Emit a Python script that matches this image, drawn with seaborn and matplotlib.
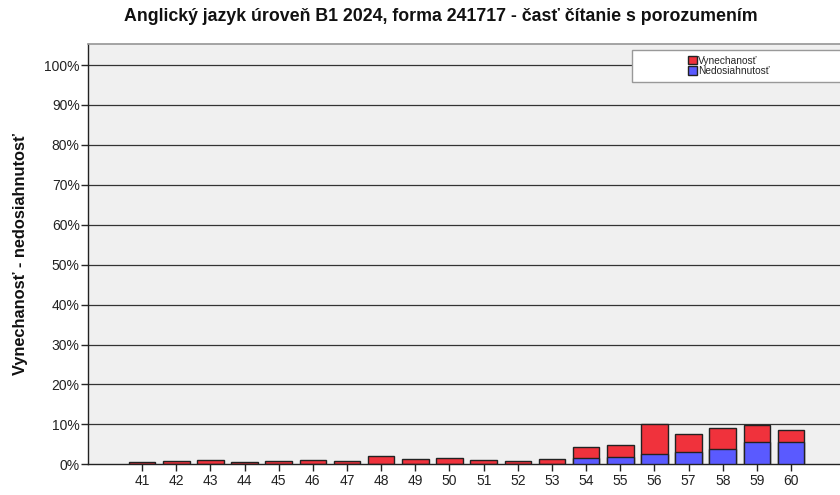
import pandas as pd
import matplotlib
matplotlib.use("Agg")
import matplotlib.pyplot as plt
import seaborn as sns
from matplotlib.patches import Patch, Rectangle

# data (percent)
polozky = [str(i) for i in range(41, 61)]
spolu = [0.6, 0.8, 1.1, 0.5, 0.8, 1.1, 0.9, 2.1, 1.4, 1.7,
         1.2, 0.8, 1.3, 4.4, 4.8, 10.2, 7.7, 9.1, 9.9, 8.5]
nedosiahnutost = [0, 0, 0, 0, 0, 0, 0, 0, 0, 0,
                  0, 0, 0, 1.5, 1.9, 2.5, 3.0, 3.9, 5.5, 5.6]
ytick_vals = list(range(0, 101, 10))

df = pd.DataFrame({"polozka": polozky, "spolu": spolu, "nedos": nedosiahnutost})

sns.set_theme(style="white")
plt.rcParams['font.family'] = ['Liberation Sans', 'DejaVu Sans']

red = '#F0323C'
blue = '#5A5AFF'
edge = '#222222'

fig = plt.figure(figsize=(8.4, 4.95), dpi=100)
ax = fig.add_axes([0.1048, 0.062, 0.8952, 0.849])
ax.set_facecolor('#F0F0F0')

# horizontal lines at each 10 %
for v in ytick_vals[1:]:
    ax.axhline(v, color='#333333', lw=0.9, zorder=1)

sns.barplot(data=df, x="polozka", y="spolu", color=red, width=0.78,
            edgecolor=edge, linewidth=1, saturation=1, ax=ax, zorder=3)
sns.barplot(data=df, x="polozka", y="nedos", color=blue, width=0.78,
            edgecolor=edge, linewidth=1, saturation=1, ax=ax, zorder=4)

ax.set_xlim(-1.58, 20.43)
ax.set_ylim(0, 105.25)
ax.set_yticks(ytick_vals)
ax.set_yticklabels([f"{v}%" for v in ytick_vals], fontsize=10, color='#222222')
ax.tick_params(axis='x', labelsize=10, colors='#222222', length=5, width=1,
               direction='out', bottom=True, pad=2)
ax.tick_params(axis='y', length=5, width=1, direction='out', left=True, pad=1)
ax.set_xlabel("")
ax.set_ylabel("Vynechanosť - nedosiahnutosť", fontsize=11.8, fontweight='bold',
              color='#111111', labelpad=12)

for s in ['left', 'bottom']:
    ax.spines[s].set_color('#222222')
    ax.spines[s].set_linewidth(1)
ax.spines['top'].set_color('#999999')
ax.spines['right'].set_visible(False)

fig.suptitle("Anglický jazyk úroveň B1 2024, forma 241717 - časť čítanie s porozumením",
             x=0.525, y=0.966, va='center', fontsize=12.8, fontweight='bold',
             color='#111111')

# legend box (white, grey border) with entries in the middle
ax.add_patch(Rectangle((0.7234, 0.909), 0.29, 0.077, transform=ax.transAxes,
                       facecolor='white', edgecolor='#999999', lw=1,
                       zorder=9, clip_on=False))
handles = [Patch(facecolor=red, edgecolor=edge, label='Vynechanosť'),
           Patch(facecolor=blue, edgecolor=edge, label='Nedosiahnutosť')]
leg = ax.legend(handles=handles, loc='center', bbox_to_anchor=(0.852, 0.948),
                frameon=False, fontsize=7.3, handlelength=0.9,
                handleheight=0.9, handletextpad=0.15, labelspacing=0.05,
                borderpad=0, borderaxespad=0)
leg.set_zorder(10)

fig.savefig("out.png", dpi=100, facecolor='white')
